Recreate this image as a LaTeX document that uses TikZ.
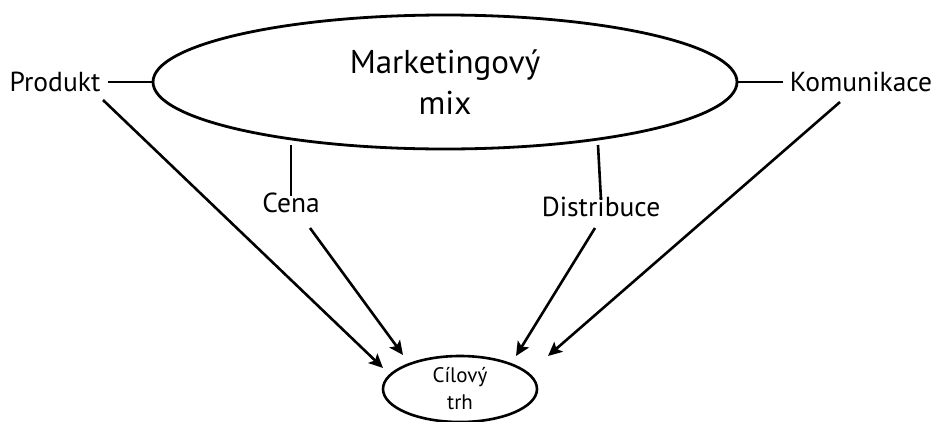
\documentclass[tikz,border=0pt]{standalone}
\usepackage{fontspec}
\setmainfont{PT Sans}
\usetikzlibrary{shapes.geometric,arrows.meta}
\tikzset{
  lbl/.style={inner sep=0pt, font=\fontsize{27.5}{31}\selectfont},
  oval/.style={ellipse, draw, line width=2.8pt, inner sep=0pt, align=center},
  conn/.style={line width=2.6pt},
  arr/.style={line width=2.6pt, -{Stealth[length=14pt,width=13pt,inset=3pt]}}
}
\begin{document}
\begin{tikzpicture}[x=1pt,y=-1pt]
\useasboundingbox (0,0) rectangle (937,421);
\node[oval, minimum width=584pt, minimum height=134pt,
      font=\fontsize{33}{41}\selectfont] (mix) at (445,82) {Marketingový\\mix};
\node[oval, line width=2.6pt, minimum width=154pt, minimum height=66pt,
      font=\fontsize{21}{27}\selectfont] (trh) at (460,389) {Cílový\\trh};
\node[lbl] (prod) at (55,82) {Produkt};
\node[lbl] (kom) at (861,82) {Komunikace};
\node[lbl] (cena) at (291,203) {Cena};
\node[lbl] (dist) at (601,207) {Distribuce};

\coordinate (c1) at (291,145);
\coordinate (d1) at (598,145);
\draw[conn, shorten <=7pt] (prod.east) -- (mix.west);
\draw[conn, shorten <=7pt] (kom.west) -- (mix.east);
\draw[conn] (c1) -- ([yshift=-3pt]cena.north);
\draw[conn] (d1) -- ([yshift=-3pt]dist.north);

\coordinate (pa) at (103,100);
\coordinate (pe) at (383,368);
\coordinate (ca) at (310,228);
\coordinate (ce) at (403,355);
\coordinate (da) at (595,228);
\coordinate (de) at (516,356);
\coordinate (ka) at (840,102);
\coordinate (ke) at (548,356);
\draw[arr] (pa) -- (pe);
\draw[arr] (ca) -- (ce);
\draw[arr] (da) -- (de);
\draw[arr] (ka) -- (ke);
\end{tikzpicture}
\end{document}
